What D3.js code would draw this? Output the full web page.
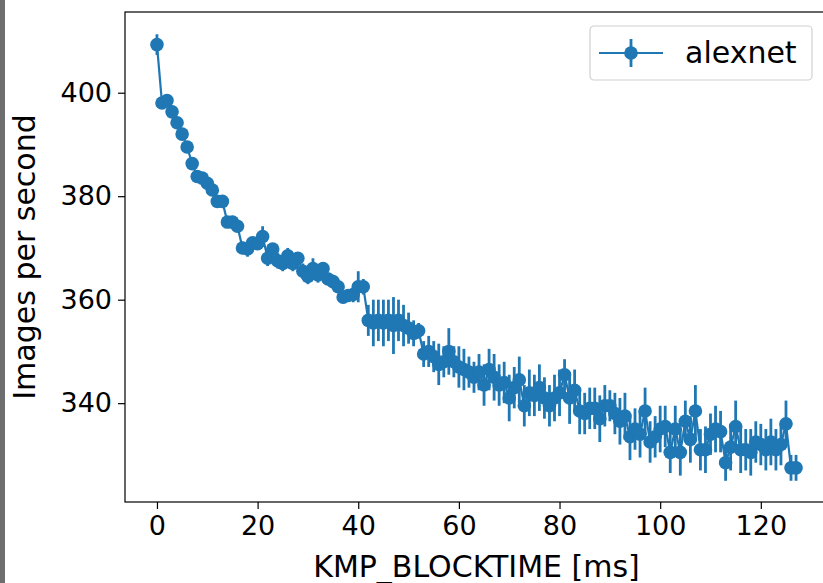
<!DOCTYPE html>
<html>
<head>
<meta charset="utf-8">
<script src="https://cdn.jsdelivr.net/npm/d3@7"></script>
<style>
    body { margin: 0; background: #fff; }
    svg { display: block; font-family: "DejaVu Sans", sans-serif; }
</style>
</head>
<body>
<div id="chart"></div>
<script>
// KMP_BLOCKTIME values in ms (0..127)
const blocktime = d3.range(0, 128);

// Images per second (mean)
const imagesPerSec = [
    409.3, 398.0, 398.5, 396.3, 394.2, 392.0, 389.5, 386.3, 383.8, 383.5,
    382.5, 381.2, 379.0, 379.0, 375.0, 375.0, 374.2, 370.0, 369.8, 371.0,
    370.8, 372.2, 368.0, 369.8, 367.5, 367.0, 368.5, 367.0, 368.0, 365.5,
    364.5, 366.0, 364.8, 366.0, 364.0, 363.5, 362.5, 360.5, 360.8, 361.0,
    362.5, 362.5, 356.0, 355.5, 356.0, 355.5, 356.0, 355.0, 356.0, 355.0,
    354.5, 353.5, 354.0, 349.5, 350.0, 349.0, 347.5, 348.0, 350.0, 348.0,
    347.0, 346.5, 346.0, 345.0, 346.0, 343.5, 346.5, 345.0, 343.5, 344.0,
    341.0, 343.0, 344.5, 339.5, 342.0, 341.5, 343.0, 341.0, 339.5, 341.0,
    342.0, 345.5, 341.0, 342.5, 338.5, 338.0, 339.0, 339.0, 337.0, 339.5,
    339.5, 338.0, 336.5, 337.5, 333.5, 335.0, 334.0, 338.5, 332.5, 333.5,
    335.0, 335.5, 330.5, 335.0, 330.5, 336.5, 333.0, 338.5, 331.0, 331.0,
    334.0, 335.0, 334.5, 328.5, 331.5, 335.5, 331.0, 331.0, 330.5, 332.5,
    332.0, 331.0, 332.5, 331.0, 332.0, 336.0, 327.5, 327.5
];

// Error bar half-heights
const errors = [
    2.0, 1.0, 1.2, 0.8, 0.8, 0.8, 0.7, 0.8, 0.8, 0.8,
    0.8, 0.8, 1.0, 1.0, 1.0, 1.2, 1.0, 1.2, 1.5, 1.0,
    1.2, 2.0, 1.5, 1.0, 1.5, 1.5, 1.5, 1.5, 1.2, 1.5,
    1.5, 2.0, 1.5, 1.2, 1.2, 1.2, 1.0, 1.2, 1.2, 1.5,
    3.0, 1.5, 3.0, 4.5, 4.0, 4.5, 4.0, 5.5, 4.0, 4.0,
    3.0, 2.5, 1.5, 2.5, 3.0, 3.0, 4.0, 3.0, 4.5, 3.0,
    4.0, 4.0, 3.0, 3.0, 3.5, 4.0, 4.0, 4.5, 4.0, 4.0,
    4.5, 4.0, 4.5, 4.0, 4.5, 4.0, 4.5, 4.0, 4.0, 4.5,
    4.5, 3.0, 5.0, 4.0, 4.5, 4.0, 4.0, 4.0, 4.5, 4.0,
    3.0, 4.0, 4.5, 4.5, 4.5, 4.0, 4.5, 4.5, 4.0, 4.0,
    4.5, 4.0, 4.0, 4.5, 4.5, 4.0, 4.5, 5.0, 4.0, 4.5,
    4.0, 4.5, 4.0, 3.5, 4.5, 5.0, 4.5, 4.0, 4.5, 4.0,
    4.0, 4.0, 4.5, 4.0, 4.0, 4.5, 2.5, 2.5
];

const xTicks = [0, 20, 40, 60, 80, 100, 120];
const yTicks = [340, 360, 380, 400];
const seriesName = 'alexnet';

function drawChart() {
    const width = 823, height = 583;
    const margin = { top: 12, right: -5, bottom: 81, left: 125 };
    const color = '#1f77b4';

    const data = blocktime.map((t, i) => ({ x: t, y: imagesPerSec[i], e: errors[i] }));

    const svg = d3.select('#chart')
        .append('svg')
        .attr('width', width)
        .attr('height', height);

    // gray strip at the left edge of the screenshot
    svg.append('rect').attr('x', 0).attr('y', 0).attr('width', 5).attr('height', height).attr('fill', '#6e6e6e');

    const x = d3.scaleLinear()
        .domain([-6.35, 133.35])
        .range([margin.left, width - margin.right]);

    const y = d3.scaleLinear()
        .domain([320.9, 415.6])
        .range([height - margin.bottom, margin.top]);

    const plot = svg.append('g');

    // error bars
    plot.selectAll('line.err')
        .data(data)
        .enter()
        .append('line')
        .attr('class', 'err')
        .attr('x1', d => x(d.x)).attr('x2', d => x(d.x))
        .attr('y1', d => y(d.y - d.e)).attr('y2', d => y(d.y + d.e))
        .attr('stroke', color)
        .attr('stroke-width', 2.8);

    // connecting line
    plot.append('path')
        .datum(data)
        .attr('fill', 'none')
        .attr('stroke', color)
        .attr('stroke-width', 2.2)
        .attr('d', d3.line().x(d => x(d.x)).y(d => y(d.y)));

    // markers
    plot.selectAll('circle')
        .data(data)
        .enter()
        .append('circle')
        .attr('cx', d => x(d.x))
        .attr('cy', d => y(d.y))
        .attr('r', 6.8)
        .attr('fill', color);

    // axes
    const xAxis = svg.append('g')
        .attr('transform', `translate(0,${height - margin.bottom})`)
        .call(d3.axisBottom(x).tickValues(xTicks).tickSize(7).tickPadding(7));

    const yAxis = svg.append('g')
        .attr('transform', `translate(${margin.left},0)`)
        .call(d3.axisLeft(y).tickValues(yTicks).tickSize(7).tickPadding(6));

    [xAxis, yAxis].forEach(a => {
        a.select('.domain').remove();
        a.selectAll('.tick line').attr('stroke', '#000').attr('stroke-width', 1.2);
        a.selectAll('.tick text')
            .attr('fill', '#000')
            .style('font-family', '"DejaVu Sans", sans-serif')
            .style('font-size', '27px');
    });

    // frame
    svg.append('rect')
        .attr('x', margin.left)
        .attr('y', margin.top)
        .attr('width', width - margin.right - margin.left)
        .attr('height', height - margin.bottom - margin.top)
        .attr('fill', 'none')
        .attr('stroke', '#000')
        .attr('stroke-width', 1.2);

    // axis labels
    svg.append('text')
        .attr('x', (margin.left + width - margin.right) / 2)
        .attr('y', 577)
        .attr('text-anchor', 'middle')
        .style('font-size', '30px')
        .text('KMP_BLOCKTIME [ms]');

    svg.append('text')
        .attr('transform', `translate(35,${(margin.top + height - margin.bottom) / 2}) rotate(-90)`)
        .attr('text-anchor', 'middle')
        .style('font-size', '30px')
        .text('Images per second');

    // legend
    const legend = svg.append('g').attr('transform', 'translate(590,26)');
    legend.append('rect')
        .attr('width', 222).attr('height', 54)
        .attr('rx', 4)
        .attr('fill', '#fff')
        .attr('stroke', '#d0d0d0')
        .attr('stroke-width', 1.2);
    legend.append('line')
        .attr('x1', 9).attr('x2', 73).attr('y1', 27).attr('y2', 27)
        .attr('stroke', color).attr('stroke-width', 2.2);
    legend.append('line')
        .attr('x1', 41).attr('x2', 41).attr('y1', 13).attr('y2', 41)
        .attr('stroke', color).attr('stroke-width', 2.8);
    legend.append('circle')
        .attr('cx', 41).attr('cy', 27).attr('r', 6.8).attr('fill', color);
    legend.append('text')
        .attr('x', 95).attr('y', 37)
        .style('font-size', '30px')
        .text(seriesName);
}

drawChart();
</script>
</body>
</html>
